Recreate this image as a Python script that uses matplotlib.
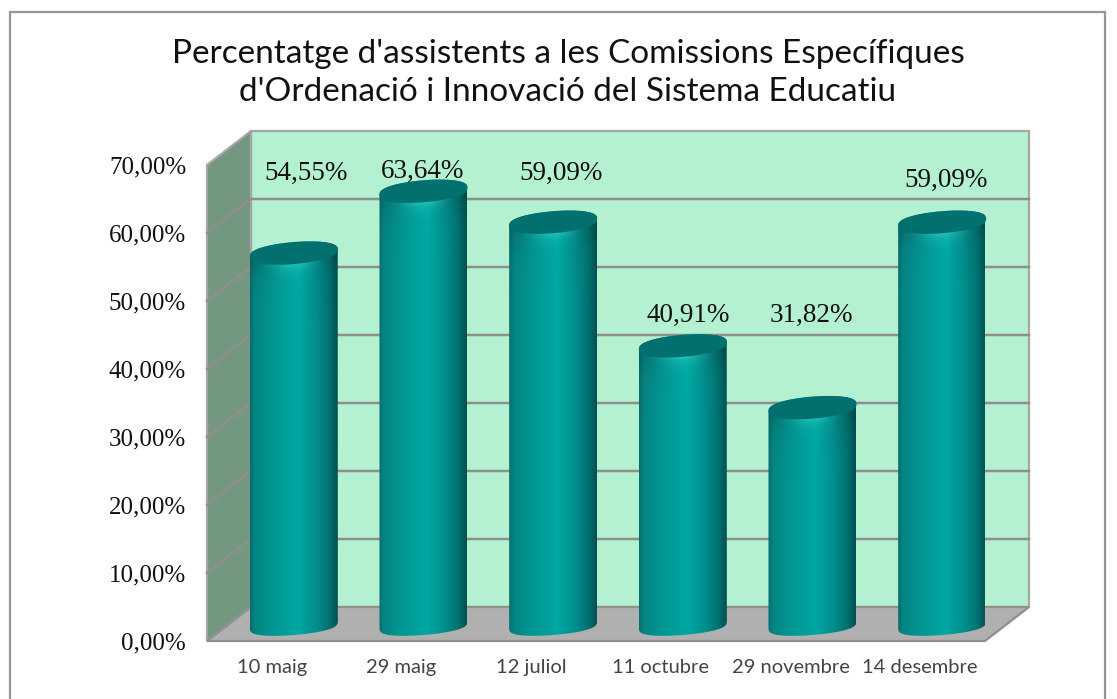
import numpy as np
import matplotlib
matplotlib.use("Agg")
import matplotlib.pyplot as plt
from matplotlib.path import Path
from matplotlib.patches import PathPatch, Rectangle
from matplotlib.colors import LinearSegmentedColormap

categories = ["10 maig", "29 maig", "12 juliol", "11 octubre", "29 novembre", "14 desembre"]
values = [54.55, 63.64, 59.09, 40.91, 31.82, 59.09]
value_labels = ["54,55%", "63,64%", "59,09%", "40,91%", "31,82%", "59,09%"]
y_ticks = [0, 10, 20, 30, 40, 50, 60, 70]
y_tick_labels = ["0,00%", "10,00%", "20,00%", "30,00%", "40,00%", "50,00%", "60,00%", "70,00%"]
title = "Percentatge d'assistents a les Comissions Específiques\nd'Ordenació i Innovació del Sistema Educatiu"
label_offsets_px = [(12, 80), (-1, 20), (8, 49), (5, 30), (-1, 92), (4, 42)]

W, H = 1117, 699
fig = plt.figure(figsize=(W / 100, H / 100), dpi=100, facecolor="white")
L, R, T, B = 207, 985, 165, 641
ax = fig.add_axes([L / W, 1 - B / H, (R - L) / W, (B - T) / H])
ax.set_xlim(-0.5, 5.5)
ax.set_ylim(0, 70)
ax.patch.set_alpha(0)
for s in ax.spines.values():
    s.set_visible(False)

px_x = (R - L) / 6
px_y = (B - T) / 70
dx, dy = 44 / px_x, 34 / px_y

fig.add_artist(Rectangle((10 / W, -0.01), 1095 / W, 1 - 12 / H + 0.01, transform=fig.transFigure,
                         fc="none", ec="#959595", lw=1.6))

GRID = "#8f8f8f"
x0, x1 = -0.5, 5.5
ax.fill([x0 + dx, x1 + dx, x1 + dx, x0 + dx], [dy, dy, 70 + dy, 70 + dy], fc="#b3f1d1", ec="#a6a6a6", lw=1.6, clip_on=False, zorder=1)
ax.fill([x0, x0 + dx, x0 + dx, x0], [0, dy, 70 + dy, 70], fc="#73977f", ec="#a6a6a6", lw=1.6, clip_on=False, zorder=1)
ax.fill([x0, x0 + dx, x1 + dx, x1], [0, dy, dy, 0], fc="#b0b0b0", ec="#8f8f8f", lw=1.6, clip_on=False, zorder=1)
for v in y_ticks[1:-1]:
    ax.plot([x0, x0 + dx, x1 + dx], [v, v + dy, v + dy], color=GRID, lw=1.8, clip_on=False, zorder=2, solid_joinstyle="miter")

ax.set_xticks(range(len(categories)))
ax.set_xticklabels(categories, fontfamily="Lato", fontsize=14.5, color="#444444")
ax.set_yticks(y_ticks)
ax.set_yticklabels(y_tick_labels, fontfamily="Liberation Serif", fontsize=18, color="#111111")
ax.tick_params(axis="both", length=0)
ax.tick_params(axis="x", pad=13)
ax.tick_params(axis="y", pad=15)

A = 44 / px_x
Bb = 11 / px_y
SHEAR = -3.5 / px_y  # rise over half width
cm = LinearSegmentedColormap.from_list("cyl", [
    (0.00, "#076f6e"), (0.05, "#058583"), (0.25, "#029693"), (0.55, "#00a7a3"),
    (0.75, "#018f8d"), (0.90, "#027373"), (1.00, "#025253")])


def edge(theta, power):
    s = np.sin(theta)
    return np.sign(s) * np.abs(s) ** power


t = np.linspace(0, 2 * np.pi, 181)
for i, v in enumerate(values):
    cx = i + dx / 2
    ybot, ytop = dy / 2, v + dy / 2
    tb = np.linspace(np.pi, 2 * np.pi, 90)
    tt = np.linspace(0, np.pi, 90)
    ub, ut = np.cos(tb), np.cos(tt)
    xs = np.r_[cx + A * ub, cx + A * ut]
    ys = np.r_[ybot + Bb * edge(tb, 0.6) - SHEAR * ub, ytop + Bb * edge(tt, 0.8) - SHEAR * ut]
    clip = Path(np.c_[xs, ys], closed=False)
    nx, ny = 120, 400
    gx = np.linspace(-1, 1, nx)
    gy = np.linspace(ytop + Bb + 1, ybot - Bb - 1, ny)
    X, Y = np.meshgrid(gx, gy)
    base = cm((X + 1) / 2)[..., :3]
    lower = ytop - Bb * np.sqrt(1 - X ** 2) - SHEAR * X
    dist = np.clip(lower - Y, 0, None)
    centre = np.exp(-(X / 0.55) ** 2)
    glow = (np.exp(-dist / 1.0) * 0.35 * centre)[..., None]
    darkrim = (np.exp(-dist / 2.2) * 0.18 * (1 - centre))[..., None]
    img = base * (1 - darkrim)
    img = img + (np.array([0.35, 0.95, 0.9]) - img) * glow
    im = ax.imshow(img, extent=[cx - A, cx + A, gy[-1], gy[0]], aspect="auto",
                   interpolation="bilinear", zorder=3 + i * 0.1)
    patch = PathPatch(clip, transform=ax.transData, fc="none", ec="none")
    ax.add_patch(patch)
    im.set_clip_path(patch)
    im.set_clip_box(None)
    ax.fill(cx + A * np.cos(t), ytop + Bb * edge(t, 0.8) - SHEAR * np.cos(t), fc="#01706f", ec="none",
            clip_on=False, zorder=3.05 + i * 0.1)
    ax.annotate(value_labels[i], (cx, ytop), xytext=label_offsets_px[i], textcoords="offset pixels",
                ha="center", va="center", fontfamily="Liberation Serif", fontsize=19.5,
                color="#111111", zorder=5, annotation_clip=False)

ax.set_xlim(-0.5, 5.5)
ax.set_ylim(0, 70)

fig.text(568 / W, 1 - 73 / H, title, ha="center", va="center", fontfamily="Lato", fontsize=24,
         color="#111111", linespacing=1.33)

fig.savefig("out.png", dpi=100)
